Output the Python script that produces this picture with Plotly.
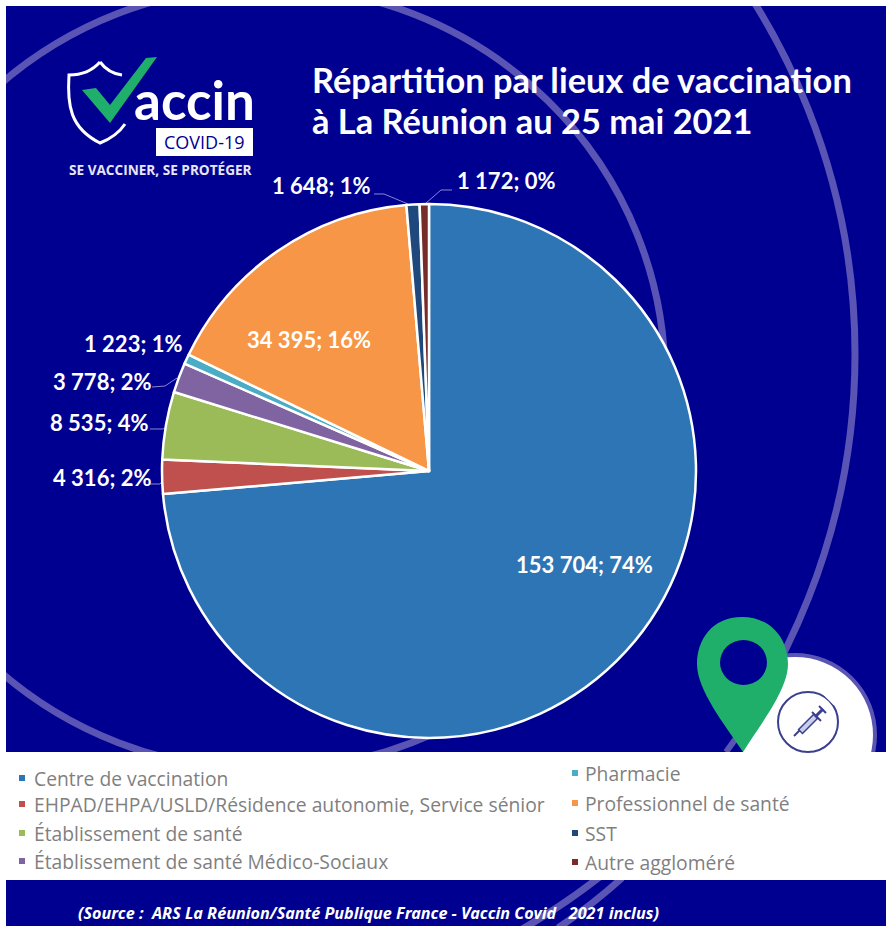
import plotly.graph_objects as go

categories = ["Centre de vaccination", "EHPAD/EHPA/USLD/Résidence autonomie, Service sénior",
              "Établissement de santé", "Établissement de santé Médico-Sociaux", "Pharmacie",
              "Professionnel de santé", "SST", "Autre aggloméré"]
doses = [153704, 4316, 8535, 3778, 1223, 34395, 1648, 1172]
percents = [74, 2, 4, 2, 1, 16, 1, 0]
colors = ["#2E75B6", "#C0504D", "#9BBB59", "#8064A2", "#4BACC6", "#F79646", "#1F497D", "#772C2A"]
title_lines = ["Répartition par lieux de vaccination", "à La Réunion au 25 mai 2021"]
source = "(Source :  ARS La Réunion/Santé Publique France - Vaccin Covid   2021 inclus)"

W, H = 886, 926
NAVY = "#000090"
RING = "#5A55B4"
GREEN = "#1FAF6B"
GREY = "#7F7F7F"
INK = "#3A3F8F"
LABEL_FONT = "Lato"

def X(x): return x / W
def Y(y): return 1 - y / H

shapes, ann = [], []

def rect(x0, y0, x1, y1, fill):
    shapes.append(dict(type="rect", xref="paper", yref="paper", x0=X(x0), x1=X(x1), y0=Y(y0), y1=Y(y1),
                       fillcolor=fill, line_width=0, layer="below"))

def ell(x0, y0, x1, y1, fill="rgba(0,0,0,0)", lc=RING, lw=0):
    shapes.append(dict(type="circle", xref="paper", yref="paper", x0=X(x0), x1=X(x1), y0=Y(y0), y1=Y(y1),
                       fillcolor=fill, line=dict(color=lc, width=lw), layer="below"))

def path(points, fill=None, lc=RING, lw=0):
    """points: SVG-like commands in pixel coords, converted to paper fractions."""
    out = []
    for cmd, *xy in points:
        pts = " ".join(f"{X(xy[i]):.5f},{Y(xy[i+1]):.5f}" for i in range(0, len(xy), 2))
        out.append(f"{cmd}{pts}")
    d = dict(type="path", xref="paper", yref="paper", path=" ".join(out), layer="below",
             line=dict(color=lc, width=lw))
    if fill:
        d["fillcolor"] = fill
    shapes.append(d)

def text(x, y, s, size, color="white", font=LABEL_FONT, anchor="left"):
    ann.append(dict(xref="paper", yref="paper", x=X(x), y=Y(y), text=s, showarrow=False,
                    xanchor=anchor, yanchor="middle", align=anchor, xshift=0,
                    font=dict(family=font, size=size, color=color)))

# background
rect(6, 6, 886, 926, NAVY)
ell(-135, -14, 665, 770, lw=7)
ell(-471, -309, 855, 1017, lw=7)
path([("M", 622, 878), ("Q", 592, 905, 558, 928)], lc=RING, lw=7)

# white page margins hiding the rings past the navy card
rect(0, 0, 6, 926, "white")
rect(0, 0, 886, 6, "white")

# white disc + panel
ell(715, 655, 875, 815, fill="white", lc=RING, lw=4)
rect(700, 650, 743, 752, NAVY)
path([("M", 742, 730), ("L", 726, 752)], lc=RING, lw=6)
rect(0, 752, 886, 880, "white")

# pin
path([("M", 742, 617), ("C", 712, 617, 697, 640, 697, 664), ("C", 697, 690, 725, 725, 743, 752),
      ("C", 760, 725, 788, 690, 788, 664), ("C", 788, 640, 772, 617, 742, 617), ("Z",)], fill=GREEN, lc=GREEN, lw=0)
ell(720, 640, 767, 685, fill=NAVY, lw=0)

# syringe badge
ell(778, 692, 838, 752, lc=INK, lw=2)
path([("M", 822, 690), ("L", 836, 704)], lc="white", lw=5)
path([("M", 794, 736), ("L", 800, 730)], lc=INK, lw=2)
path([("M", 800, 732), ("L", 816, 716)], lc=INK, lw=7)
path([("M", 801, 731), ("L", 815, 717)], lc="#C9CDE8", lw=4)
path([("M", 812, 712), ("L", 821, 721)], lc=INK, lw=2)
path([("M", 816, 716), ("L", 823, 709)], lc=INK, lw=3)
path([("M", 819, 706), ("L", 826, 713)], lc=INK, lw=2)

# legend markers and labels
left_rows = [778, 804, 833, 861]
right_rows = [773, 803, 833, 862]
for i, name in enumerate(categories):
    if i < 4:
        mx, tx, yy = 22, 32, left_rows[i]
    else:
        mx, tx, yy = 575, 583, right_rows[i - 4]
    rect(mx - 3, yy - 3, mx + 3, yy + 3, colors[i])
    text(tx, yy, name, 19.3, color=GREY, font="Open Sans")

# logo
path([("M", 100, 62), ("C", 92, 71, 80, 75, 69, 75), ("C", 67, 105, 70, 128, 100, 143),
      ("C", 110, 139, 119, 133, 125, 124)], fill=None, lc="white", lw=3)
path([("M", 100, 62), ("C", 106, 70, 114, 74, 122, 75)], lc="white", lw=3)
path([("M", 82, 90), ("L", 96, 88), ("L", 110, 105), ("L", 146, 58), ("L", 157, 57), ("L", 110, 123), ("Z",)],
     fill=GREEN, lc=GREEN, lw=0)
text(132, 100, "<b>accin</b>", 53, font="Lato")
rect(156, 128, 253, 156, "white")
text(204.5, 142, "COVID-19", 18, color=NAVY, font="Open Sans", anchor="center")
text(67, 169, "<b>SE VACCINER, SE PROTÉGER</b>", 13.6, color="#E6E6F5", font="Open Sans")

# title
text(310, 80, f"<b>{title_lines[0]}</b>", 34.4, font=LABEL_FONT)
text(310, 121, f"<b>{title_lines[1]}</b>", 34.4, font=LABEL_FONT)

# source
text(76, 913, f"<b><i>{source}</i></b>", 16.2, color="white", font="Noto Sans")

# data labels
label_pos = [(584, 564), (102, 477), (99, 422), (102, 381), (133, 344), (309, 340), (321, 186), (506, 181)]
for i, v in enumerate(doses):
    t = f"{v:,}".replace(",", " ") + f"; {percents[i]}%"
    text(label_pos[i][0], label_pos[i][1], f"<b>{t}</b>", 22, anchor="center")

# leader lines (drawn under the pie)
for pts in [[(152, 387), (165, 386), (177, 378)], [(150, 429), (163, 429), (167, 427)],
            [(150, 484), (160, 484), (163, 480)], [(374, 194), (384, 194), (408, 204)],
            [(452, 190), (441, 190), (425, 204)]]:
    path([("M", *pts[0]), ("L", *pts[1]), ("L", *pts[2])], lc="#8A86D0", lw=1)

fig = go.Figure(go.Pie(
    labels=categories, values=doses, sort=False, direction="clockwise", rotation=0,
    marker=dict(colors=colors, line=dict(color="white", width=2.5)),
    textinfo="none", hoverinfo="label+value+percent", showlegend=False,
    domain=dict(x=[X(162), X(696)], y=[Y(738), Y(204)]),
))
fig.update_layout(width=W, height=H, margin=dict(l=0, r=0, t=0, b=0), paper_bgcolor="white",
                  shapes=shapes, annotations=ann, showlegend=False)
fig.write_html("out.html", config={"displayModeBar": False},
               post_script="document.body.style.margin='0';document.documentElement.style.overflow='hidden';")
